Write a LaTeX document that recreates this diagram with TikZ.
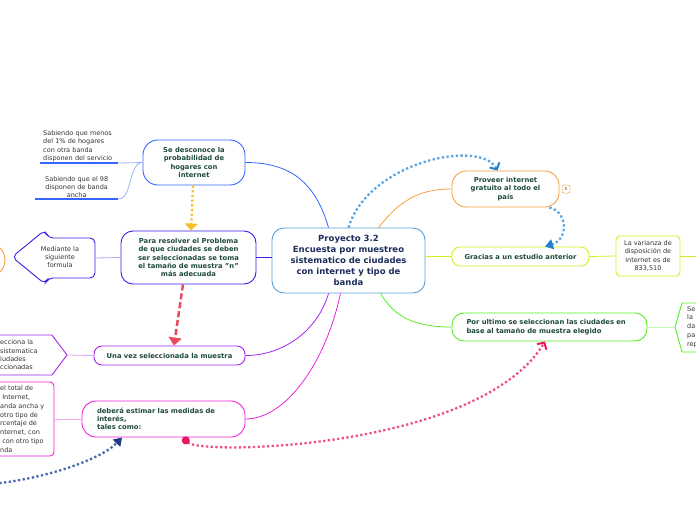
\documentclass[tikz,border=0pt]{standalone}
\usepackage{fontspec}
\setmainfont{DejaVu Sans}
\usetikzlibrary{arrows.meta,calc}

\definecolor{txtgreen}{HTML}{1E4A3C}
\definecolor{txtnavy}{HTML}{1C2D5C}
\definecolor{txtgray}{HTML}{333333}
\definecolor{cblue}{HTML}{5A9FD4}
\definecolor{cdesc}{HTML}{3366FF}
\definecolor{cviolet}{HTML}{3A1EE6}
\definecolor{cpurple}{HTML}{A622EE}
\definecolor{cmagenta}{HTML}{EE22DD}
\definecolor{corange}{HTML}{F5A040}
\definecolor{cyellow}{HTML}{D4EE22}
\definecolor{cgreen}{HTML}{55EE22}
\definecolor{dotblue}{HTML}{5AA5E0}
\definecolor{dotblue2}{HTML}{2080D0}
\definecolor{dotorange}{HTML}{F8C030}
\definecolor{dotred}{HTML}{E84A5F}
\definecolor{dotpink}{HTML}{F0508A}
\definecolor{dotpink2}{HTML}{E8185E}
\definecolor{dotnavy}{HTML}{4A6AAA}
\definecolor{dotnavy2}{HTML}{1E3A80}

\tikzset{
    topic/.style={draw, line width=0.9pt, fill=white, text=txtgreen, align=center, inner sep=2pt,
        font=\bfseries\fontsize{6.8}{8.3}\selectfont},
    leaf/.style={text=txtgray, align=center, inner sep=1pt, font=\fontsize{6.5}{8.3}\selectfont},
    branch/.style={line width=0.8pt},
    twig/.style={line width=0.8pt},
    uline/.style={line width=1.5pt, cdesc},
    dots/.style={line width=2.3pt, dash pattern=on 2.3pt off 2.4pt},
}

\begin{document}
\begin{tikzpicture}[x=1pt, y=-1pt]
                \useasboundingbox (0,0) rectangle (696,520);

                \node[topic, draw=cblue, text=txtnavy, rounded corners=12pt, minimum width=153pt, minimum height=65pt,
                    font=\bfseries\fontsize{8.5}{11}\selectfont] (proyecto) at (348.5,260.5)
                    {Proyecto 3.2\\Encuesta por muestreo\\sistematico de ciudades\\con internet y tipo de\\banda};

                \node[topic, draw=cdesc, rounded corners=15pt, minimum width=102pt, minimum height=45pt] (desconoce) at (194,162.5)
                    {Se desconoce la\\probabilidad de\\hogares con\\internet};
                \node[topic, draw=cviolet, rounded corners=12pt, minimum width=135pt, minimum height=53pt] (resolver) at (188.5,257.5)
                    {Para resolver el Problema\\de que ciudades se deben\\ser seleccionadas se toma\\el tamaño de muestra "n"\\más adecuada};
                \node[topic, draw=cpurple, rounded corners=8pt, minimum width=151pt, minimum height=19pt] (unavez) at (169.5,355.5)
                    {Una vez seleccionada la muestra};
                \node[topic, draw=cmagenta, rounded corners=14pt, minimum width=163pt, minimum height=36pt, align=left,
                    text width=133pt] (debera) at (163.5,419)
                    {deberá estimar las medidas de\\interés,\\tales como:};

                \node[topic, draw=corange, rounded corners=14pt, minimum width=107pt, minimum height=36pt] (proveer) at (505.5,189)
                    {Proveer internet\\gratuito al todo el\\país};
                \node[draw=corange, rounded corners=2pt, line width=0.5pt, inner sep=1pt, minimum width=8pt, minimum height=8pt,
                    text=txtgray, font=\fontsize{4}{4}\selectfont] (nota) at (566,189) {5};
                \node[topic, draw=cyellow, rounded corners=8pt, minimum width=137pt, minimum height=19pt] (gracias) at (520.5,256.5)
                    {Gracias a un estudio anterior};
                \node[leaf, draw=cyellow, line width=0.9pt, rounded corners=4pt, minimum width=64pt, minimum height=40pt] (varianza) at (648,256)
                    {La varianza de\\disposición de\\internet es de\\833,510};
                \node[topic, draw=cgreen, rounded corners=12pt, minimum width=195pt, minimum height=28pt, align=left,
                    text width=166pt] (porultimo) at (549.5,327)
                    {Por ultimo se seleccionan las ciudades en\\base al tamaño de muestra elegido};

                \node[leaf, align=left, text width=72pt, inner xsep=3pt, anchor=south west] (menos) at (40,163)
                    {Sabiendo que menos\\del 1\% de hogares\\con otra banda\\disponen del servicio};
                \node[leaf, text width=77pt, inner xsep=3pt, anchor=south west] (ancha) at (35,199)
                    {Sabiendo que el 98\\disponen de banda\\ancha};
                \draw[uline] (menos.south west) -- (menos.south east);
                \draw[uline] (ancha.south west) -- (ancha.south east);

                \draw[cviolet, line width=0.9pt, fill=white, rounded corners=5pt]
                    (95,238) -- (48,238) -- (45,230) -- (12,257) -- (45,284) -- (48,278) -- (95,278) -- cycle;
                \node[leaf] (mediante) at (60,257) {Mediante la\\siguiente\\formula};
                \coordinate (formula) at (95,258);

                \draw[corange, line width=0.9pt] (-12,260) circle[radius=17pt];

                \draw[cpurple, line width=0.9pt, fill=white] (-10,335) -- (52,335) -- (67,355) -- (52,375) -- (-10,375) -- cycle;
                \node[leaf, align=left, anchor=west, inner sep=0pt] (selecciona) at (0,355)
                    {ecciona la\\ sistematica\\ iudades\\ccionadas};
                \coordinate (muestra) at (67,355);

                \node[draw=cmagenta, line width=0.9pt, rounded corners=4pt, minimum width=74pt, minimum height=74pt] (total) at (17,419) {};
                \node[leaf, align=left, anchor=west, inner sep=0pt, font=\fontsize{6.5}{8.8}\selectfont] (totaltxt) at (0,419)
                    {el total de\\ \ Internet,\\anda ancha y\\otro tipo de\\rcentaje de\\nternet, con\\ \ con otro tipo\\nda};

                \draw[cgreen, line width=0.9pt, fill=white] (706,303) -- (682,303) -- (675,327) -- (682,352) -- (706,352) -- cycle;
                \node[leaf, align=left, anchor=west, inner sep=0pt, font=\fontsize{6.5}{8.8}\selectfont] (setxt) at (687,327)
                    {Se\\la\\da\\pa\\rep};
                \coordinate (seleccion) at (675,327);
                \coordinate (offright) at (700,256);
                \coordinate (offleft) at (-10,484);

                \draw[branch, cdesc] ([xshift=-20pt]proyecto.north) .. controls +(-13,-45) and +(45,0) .. (desconoce.east);
                \draw[branch, cviolet] (resolver.east) -- (resolver.east -| proyecto.west);
                \draw[branch, cpurple] ([xshift=-20pt]proyecto.south) .. controls +(-10,35) and +(40,0) .. (unavez.east);
                \draw[branch, cmagenta] ([xshift=-8pt]proyecto.south) .. controls +(-15,70) and +(40,0) .. (debera.east);
                \draw[branch, corange] ([xshift=30pt]proyecto.north) .. controls +(20,-25) and +(-35,0) .. (proveer.west);
                \draw[branch, cyellow] (gracias.west -| proyecto.east) -- (gracias.west);
                \draw[branch, cgreen] ([xshift=32pt]proyecto.south) .. controls +(15,25) and +(-35,0) .. (porultimo.west);

                \draw[twig, cdesc!50] (menos.south east) .. controls +(12,0) and +(-12,0) .. (desconoce.west);
                \draw[twig, cdesc!50] (ancha.south east) .. controls +(14,0) and +(-14,0) .. (desconoce.west);
                \draw[twig, cviolet!40] (resolver.west) -- (formula);
                \draw[twig, cpurple!40] (unavez.west) -- (muestra);
                \draw[twig, cmagenta!40] (debera.west) -- (total.east);
                \draw[twig, cyellow] (gracias.east) -- (varianza.west);
                \draw[twig, cyellow] (varianza.east) -- (offright);
                \draw[twig, cgreen!35] (porultimo.east) -- (seleccion);

                \draw[dots, dotblue, -{Straight Barb[length=5pt, width=11pt, line width=2pt, color=dotblue2]}]
                    (proyecto.north) .. controls +(20,-66) and +(-17,-32) .. ([xshift=-8pt]proveer.north);
                \draw[dots, dotblue, -{Triangle[length=8pt, width=10pt, color=dotblue2]}]
                    ([xshift=-10pt]proveer.south east) .. controls +(19,5) and +(23,-7) .. ([xshift=24.5pt]gracias.north);
                \draw[dots, dotorange, -{Triangle[length=7pt, width=13pt]}]
                    ([xshift=-1pt]desconoce.south) -- ([xshift=2.5pt]resolver.north);
                \draw[line width=2.5pt, dotred, dash pattern=on 6pt off 3pt, -{Triangle[length=8pt, width=13pt]}]
                    ([xshift=-5.5pt]resolver.south) -- ([xshift=4.5pt]unavez.north);
                \draw[dots, dotpink, {Circle[length=8pt, color=dotpink2]}-{Straight Barb[length=5pt, width=11pt, line width=2pt, color=dotpink2]}]
                    ([xshift=19.5pt]debera.south) .. controls +(17,18) and +(-65,108) .. ([xshift=-4.5pt]porultimo.south);
                \draw[dots, dotnavy, -{Triangle[length=8pt, width=10pt, color=dotnavy2]}]
                    (offleft) .. controls +(50,-4) and +(-22,23) .. ([xshift=-41.5pt]debera.south);
            \end{tikzpicture}
\end{document}
